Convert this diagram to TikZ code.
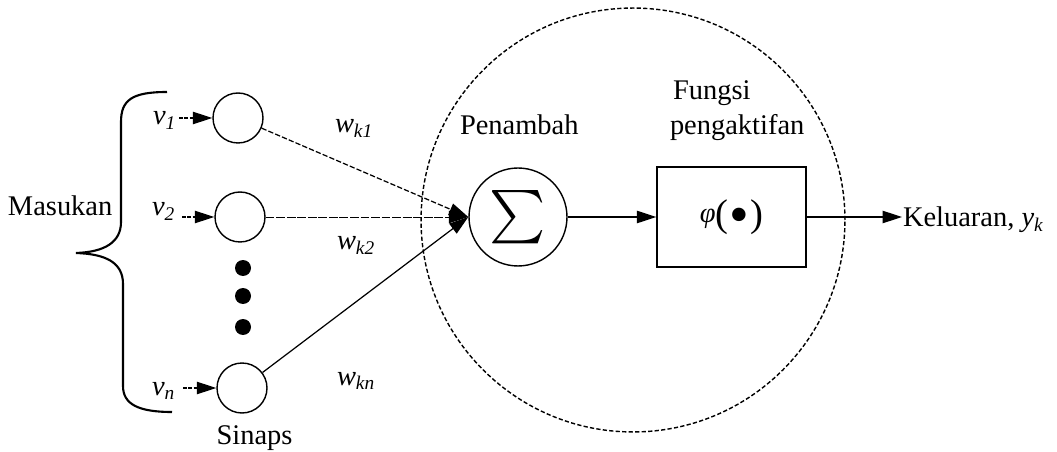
\documentclass[tikz,border=0pt]{standalone}
\usepackage{fontspec}
\setmainfont{Liberation Serif}
\newfontfamily\tnr{Liberation Serif}
\usetikzlibrary{arrows.meta}
\newcommand{\isub}[2]{\textit{#1}\raisebox{-0.35ex}{\fontsize{11}{12}\selectfont\textit{#2}}}
\tikzset{
  lbl/.style={font=\tnr\fontsize{16.2}{19}\selectfont, inner sep=0pt, outer sep=0pt},
  syn/.style={draw, circle, line width=0.8pt, minimum size=1cm, inner sep=0pt},
  tip/.style={-{Triangle[length=11pt,width=7pt]}},
  inarrow/.style={tip, line width=0.6pt, dash pattern=on 2pt off 1pt},
  wire/.style={line width=0.7pt},
  dot/.style={fill=black, circle, minimum size=0.32cm, inner sep=0pt},
}
\begin{document}
\begin{tikzpicture}[x=0.02cm, y=-0.02cm]
\useasboundingbox (0,0) rectangle (1057,452);
% big dashed circle
\node[draw, circle, minimum size=8.48cm, inner sep=0pt, line width=0.8pt,
      dash pattern=on 2.4pt off 1.3pt] (neuron) at (633,220) {};
% brace
\draw[line width=1.2pt] (167,92) .. controls (132,92) and (121,100) .. (121,122)
  -- (121,222) .. controls (121,242) and (105,252) .. (76,253)
  .. controls (105,254) and (123,262) .. (123,284)
  -- (123,386) .. controls (123,404) and (138,412) .. (172,412);
\node[lbl, anchor=base west] (mas) at (8,216) {Masukan};
% synapse circles
\node[syn] (c1) at (238,118) {};
\node[syn] (c2) at (240,217) {};
\node[syn] (cn) at (242,388) {};
\node[dot] (d1) at (243,268) {};
\node[dot] (d2) at (243,296) {};
\node[dot] (d3) at (243,327) {};
\node[lbl, anchor=base] (sin) at (254.5,444) {Sinaps};
% inputs
\node[lbl, anchor=base west] (v1) at (153,125) {\isub{v}{1}};
\node[lbl, anchor=base west] (v2) at (152,216) {\isub{v}{2}};
\node[lbl, anchor=base west] (vn) at (152,395) {\isub{v}{n}};
\coordinate (s1) at (179,118);
\coordinate (s2) at (182,217);
\coordinate (sn) at (183,388);
\draw[inarrow] (s1) -- (c1);
\draw[inarrow] (s2) -- (c2);
\draw[inarrow] (sn) -- (cn);
% summing junction
\node[draw, circle, line width=0.8pt, minimum size=1.96cm, inner sep=0pt] (sum) at (518,217)
  {\resizebox{!}{0.8cm}{$\sum$}};
\draw[tip, wire, dash pattern=on 3pt off 1.2pt] (c1) -- (sum.west);
\draw[tip, line width=0.55pt, dash pattern=on 5pt off 1pt] (c2) -- (sum.west);
\draw[tip, wire] (cn) -- (sum.west);
\node[lbl, anchor=base west] (w1) at (335,133) {\isub{w}{k1}};
\node[lbl, anchor=base west] (w2) at (337,250) {\isub{w}{k2}};
\node[lbl, anchor=base west] (wn) at (337,385) {\isub{w}{kn}};
\node[lbl, anchor=base west] (pen) at (460,135) {Penambah};
% activation
\node[draw, line width=0.8pt, minimum width=2.98cm, minimum height=2cm, inner sep=0pt] (act) at (731.5,217)
  {\tnr\fontsize{16.2}{19}\selectfont\textit{φ}\raisebox{-0.14em}{\fontsize{22}{24}\selectfont(}\hspace{0.04em}\raisebox{-0.4em}{\fontsize{32}{32}\selectfont •}\hspace{0.04em}\raisebox{-0.14em}{\fontsize{22}{24}\selectfont)}};
\node[lbl, anchor=base west] (fun) at (673,100) {Fungsi};
\node[lbl, anchor=base west] (peng) at (670,135) {pengaktifan};
\draw[tip, wire] (sum) -- (act);
% output
\node[lbl, anchor=base west] (out) at (903,227) {Keluaran, \isub{y}{k}};
\coordinate (o) at (902,217);
\draw[tip, wire] (act) -- (o);
\end{tikzpicture}
\end{document}
